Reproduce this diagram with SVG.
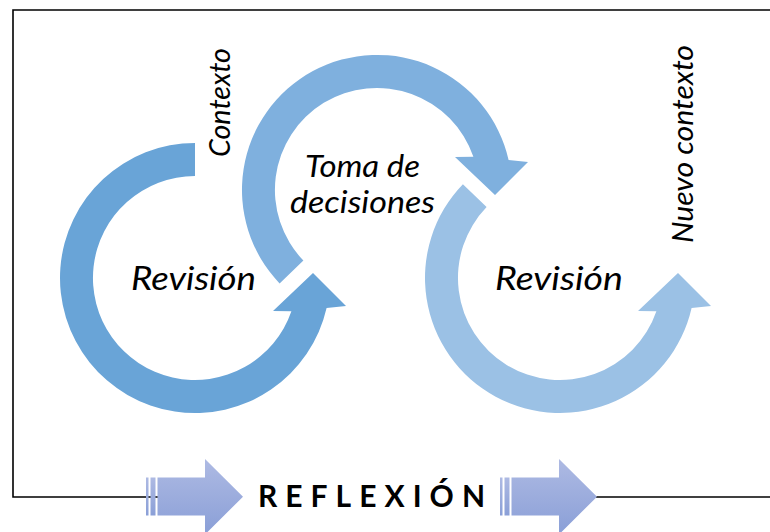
<svg xmlns="http://www.w3.org/2000/svg" width="770" height="532" viewBox="0 0 770 532">
  <style>
    .lbl { font-family: Lato, "Open Sans", "Liberation Sans", sans-serif; font-style: italic; fill: #000; }
    .big { font-size: 33px; }
    .mid { font-size: 30px; }
    .side { font-size: 28px; }
    .refl { font-family: Lato, "Open Sans", "Liberation Sans", sans-serif; font-weight: bold; font-size: 30px; fill: #000; }
    .frame { fill: none; stroke: #000; stroke-width: 1.6; }
    .block { fill: url(#blockGrad); }
  </style>
  <defs>
    <linearGradient id="blockGrad" x1="0" y1="0" x2="0" y2="1">
      <stop offset="0" stop-color="#AEBAE3"/>
      <stop offset="1" stop-color="#8A9FD7"/>
    </linearGradient>
  </defs>
  <rect width="770" height="532" fill="#fff"/>

  <g id="connectors">
    <path class="frame" d="M770,10 H13 V497 H158"/>
    <path class="frame" d="M596,497 H770"/>
  </g>

  <g id="node-revision-1">
    <path fill="#69A4D7" d="M195,143 A135,135 0 1 0 326.6,308.1 L346,306 L313,273 L273,311 L291.4,311.2 A102,102 0 1 1 195,176 Z"/>
    <text class="lbl big" x="131" y="289.5" textLength="125" lengthAdjust="spacingAndGlyphs">Revisión</text>
  </g>

  <g id="node-toma-de-decisiones">
    <path fill="#7FB0DE" d="M279.6,283.4 A135,135 0 1 1 508.6,159.9 L528,162 L495,195 L455,157 L473.4,156.8 A102,102 0 1 0 303.4,260.6 Z"/>
    <text class="lbl mid" x="305" y="176.7" textLength="115" lengthAdjust="spacingAndGlyphs">Toma de</text>
    <text class="lbl mid" x="290" y="213" textLength="145" lengthAdjust="spacingAndGlyphs">decisiones</text>
  </g>

  <g id="node-revision-2">
    <path fill="#9BC1E5" d="M462.9,184.2 A135,135 0 1 0 691.6,308.1 L711,306 L678,273 L638,311 L656.4,311.2 A102,102 0 1 1 486.6,207.1 Z"/>
    <text class="lbl big" x="495" y="289.5" textLength="128" lengthAdjust="spacingAndGlyphs">Revisión</text>
  </g>

  <g id="label-contexto">
    <text class="lbl side" transform="translate(230,157) rotate(-90)" textLength="109" lengthAdjust="spacingAndGlyphs">Contexto</text>
  </g>

  <g id="label-nuevo-contexto">
    <text class="lbl side" transform="translate(693,243) rotate(-90)" textLength="198" lengthAdjust="spacingAndGlyphs">Nuevo contexto</text>
  </g>

  <g id="node-reflexion">
    <g class="block">
      <rect x="146" y="477.5" width="2.5" height="38"/>
      <rect x="150.5" y="477.5" width="5" height="38"/>
      <path d="M157.5,477.5 H205 V459 L243,496.7 L205,534.5 V515.5 H157.5 Z"/>
    </g>
    <g class="block">
      <rect x="500" y="477.5" width="2.5" height="38"/>
      <rect x="504.5" y="477.5" width="5" height="38"/>
      <path d="M511.5,477.5 H559 V459 L597,496.7 L559,534.5 V515.5 H511.5 Z"/>
    </g>
    <text class="refl" x="258" y="506.5" textLength="238" lengthAdjust="spacing" letter-spacing="11">REFLEXIÓN</text>
  </g>
</svg>
